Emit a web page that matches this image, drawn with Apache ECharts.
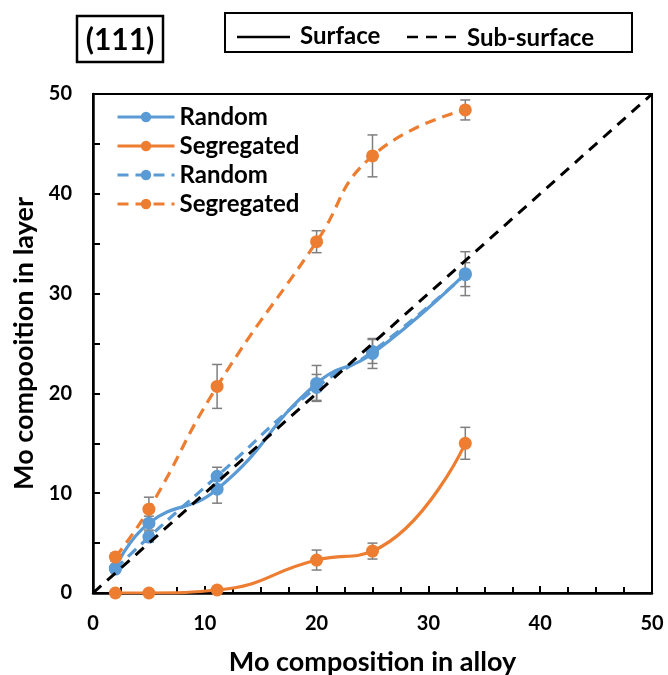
<!DOCTYPE html>
<html>
<head>
<meta charset="utf-8">
<script src="https://cdn.jsdelivr.net/npm/echarts@6/dist/echarts.min.js"></script>
<style>
  html, body { margin: 0; padding: 0; background: #fff; }
  #chart { width: 668px; height: 675px; }
</style>
</head>
<body>
<div id="chart"></div>
<script>
// Mo content of the alloy (x) and of the (111) surface / sub-surface layers (y)
const alloyX = [2, 5, 11.1, 20, 25, 33.3];

const randomSurface = [2.5, 7.0, 10.4, 21.0, 24.0, 32.0];
const randomSurfaceErr = [0.3, 0.7, 1.4, 1.8, 1.5, 2.2];

const segregatedSurface = [0, 0, 0.3, 3.3, 4.2, 15.0];
const segregatedSurfaceErr = [0, 0, 0.3, 1.0, 0.8, 1.6];

const randomSub = [2.4, 5.6, 11.7, 20.6, 24.2, 31.9];
const randomSubErr = [0.3, 0.5, 0.9, 1.3, 1.2, 1.2];

const segregatedSub = [3.6, 8.4, 20.7, 35.2, 43.8, 48.4];
const segregatedSubErr = [0.4, 1.2, 2.2, 1.1, 2.1, 1.0];

// y = x reference line
const diagonalX = [0, 50];
const diagonalY = [0, 50];

const axisTicks = [0, 10, 20, 30, 40, 50];

const BLUE = '#5B9BD5';
const ORANGE = '#ED7D31';
const FONT = 'Lato';
const DASH = [11, 7];

const pairs = (xs, ys) => xs.map((x, i) => [x, ys[i]]);
const errRows = (xs, ys, es) => xs.map((x, i) => [x, ys[i] - es[i], ys[i] + es[i]]);

function errorBarSeries(rows) {
  return {
    type: 'custom',
    silent: true,
    z: 1,
    data: rows,
    renderItem: function (params, api) {
      const top = api.coord([api.value(0), api.value(2)]);
      const bot = api.coord([api.value(0), api.value(1)]);
      const cap = 5;
      const style = { stroke: '#7F7F7F', lineWidth: 1.5 };
      return {
        type: 'group',
        children: [
          { type: 'line', shape: { x1: top[0], y1: top[1], x2: bot[0], y2: bot[1] }, style: style },
          { type: 'line', shape: { x1: top[0] - cap, y1: top[1], x2: top[0] + cap, y2: top[1] }, style: style },
          { type: 'line', shape: { x1: bot[0] - cap, y1: bot[1], x2: bot[0] + cap, y2: bot[1] }, style: style }
        ]
      };
    }
  };
}

function lineSeries(name, ys, color, dashed) {
  return {
    name: name,
    type: 'line',
    data: pairs(alloyX, ys),
    smooth: 0.5,
    symbol: 'circle',
    symbolSize: 13,
    z: 3,
    itemStyle: { color: color },
    lineStyle: { color: color, width: 3.2, type: dashed ? DASH : 'solid' }
  };
}

const chart = echarts.init(document.getElementById('chart'));

const axisCommon = {
  type: 'value',
  min: axisTicks[0],
  max: axisTicks[axisTicks.length - 1],
  interval: 10,
  axisLine: { show: true, lineStyle: { color: '#000', width: 2.5 } },
  axisTick: { show: true, inside: true, length: 7, lineStyle: { color: '#000', width: 2 } },
  splitLine: { show: false },
  axisLabel: { color: '#000', fontFamily: FONT, fontWeight: 'bold', fontSize: 20 },
  nameTextStyle: { color: '#000', fontFamily: FONT, fontWeight: 'bold', fontSize: 27 }
};

chart.setOption({
  animation: false,
  backgroundColor: '#fff',
  grid: {
    left: 93, right: 16, top: 94, bottom: 82,
    outerBoundsMode: 'none',
    containLabel: false,
    show: true, borderColor: '#000', borderWidth: 2, backgroundColor: 'transparent'
  },
  xAxis: Object.assign({}, axisCommon, {
    name: 'Mo composition in alloy',
    nameLocation: 'middle',
    nameGap: 56,
    minorTick: { show: true, splitNumber: 4, length: 6, lineStyle: { color: '#000', width: 2 } },
    axisLabel: Object.assign({}, axisCommon.axisLabel, { margin: 21 })
  }),
  yAxis: Object.assign({}, axisCommon, {
    name: 'Mo compooition in layer',
    nameLocation: 'middle',
    nameGap: 54,
    minorTick: { show: true, splitNumber: 2, length: 7, lineStyle: { color: '#000', width: 2 } },
    axisLabel: Object.assign({}, axisCommon.axisLabel, { margin: 21 })
  }),
  legend: {
    left: 111,
    top: 100,
    orient: 'vertical',
    itemWidth: 57,
    itemHeight: 13,
    itemGap: 5,
    data: ['Random', 'Segregated', 'Random ', 'Segregated '],
    formatter: function (n) { return n.trim(); },
    lineStyle: { width: 3 },
    textStyle: { color: '#000', fontFamily: FONT, fontWeight: 'bold', fontSize: 24 }
  },
  graphic: [
    { type: 'rect', shape: { x: 77, y: 16, width: 86, height: 46 },
      style: { fill: '#fff', stroke: '#000', lineWidth: 2.5 } },
    { type: 'text', x: 120, y: 40,
      style: { text: '(111)', fontFamily: FONT, fontWeight: 'bold', fontSize: 30, fill: '#000',
               align: 'center', verticalAlign: 'middle' } },
    { type: 'rect', shape: { x: 225, y: 13, width: 407, height: 39 },
      style: { fill: '#fff', stroke: '#000', lineWidth: 2 } },
    { type: 'line', shape: { x1: 237, y1: 37, x2: 290, y2: 37 },
      style: { stroke: '#000', lineWidth: 2.5 } },
    { type: 'text', x: 300, y: 36,
      style: { text: 'Surface', fontFamily: FONT, fontWeight: 'bold', fontSize: 24, fill: '#000',
               align: 'left', verticalAlign: 'middle' } },
    { type: 'line', shape: { x1: 407, y1: 37, x2: 463, y2: 37 },
      style: { stroke: '#000', lineWidth: 2.5, lineDash: [11, 8] } },
    { type: 'text', x: 467, y: 38,
      style: { text: 'Sub-surface', fontFamily: FONT, fontWeight: 'bold', fontSize: 24, fill: '#000',
               align: 'left', verticalAlign: 'middle' } }
  ],
  series: [
    errorBarSeries(errRows(alloyX, randomSurface, randomSurfaceErr)),
    errorBarSeries(errRows(alloyX, segregatedSurface, segregatedSurfaceErr)),
    errorBarSeries(errRows(alloyX, randomSub, randomSubErr)),
    errorBarSeries(errRows(alloyX, segregatedSub, segregatedSubErr)),
    lineSeries('Random', randomSurface, BLUE, false),
    lineSeries('Segregated', segregatedSurface, ORANGE, false),
    lineSeries('Random ', randomSub, BLUE, true),
    lineSeries('Segregated ', segregatedSub, ORANGE, true),
    {
      type: 'line',
      data: pairs(diagonalX, diagonalY),
      symbol: 'none',
      silent: true,
      z: 4,
      lineStyle: { color: '#000', width: 3, type: [11, 8] }
    }
  ]
});
</script>
</body>
</html>
